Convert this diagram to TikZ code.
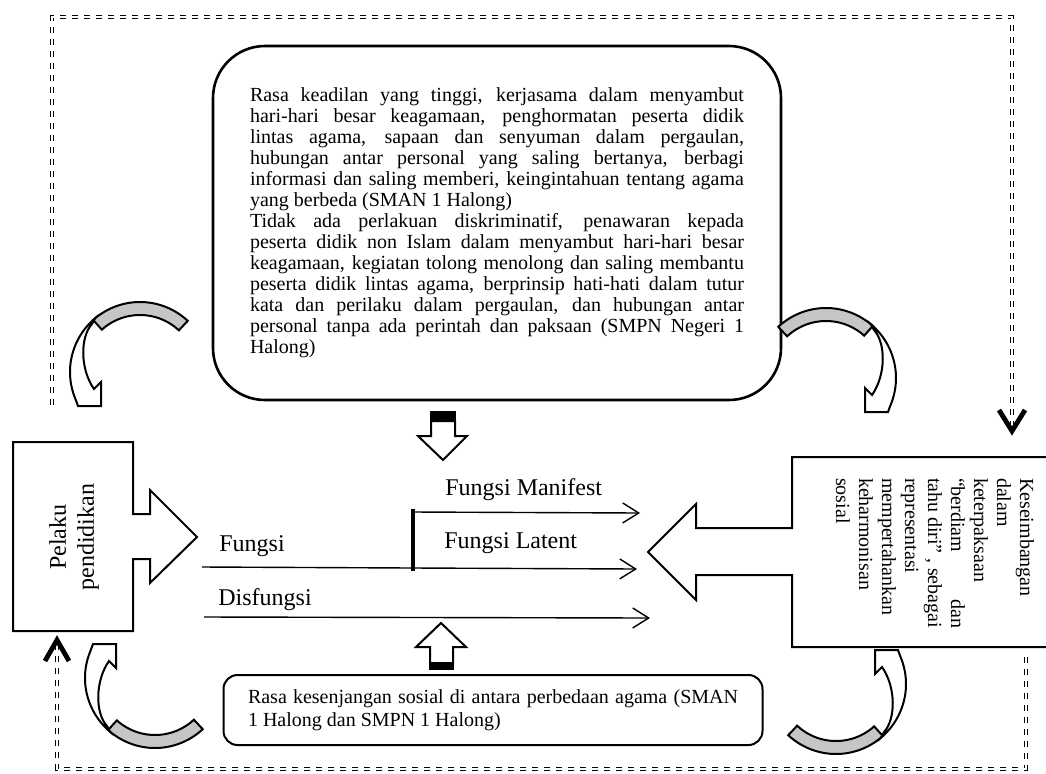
\documentclass[tikz,border=0pt]{standalone}
\usepackage{fontspec}
\setmainfont{Liberation Serif}
\usetikzlibrary{arrows.meta}
\tolerance=10000

\begin{document}
\begin{tikzpicture}[x=0.5pt, y=-0.5pt,
	bigbox/.style = {shape=rectangle, rounded corners=26pt,
		draw, line width=1.3pt, inner sep=0pt, align=justify,
		font=\fontsize{10}{10.5}\selectfont},
	smallbox/.style = {shape=rectangle, rounded corners=7pt,
		draw, line width=1pt, inner sep=0pt, align=justify,
		font=\fontsize{10}{11.5}\selectfont},
	lbl/.style = {anchor=west, inner sep=0pt, font=\fontsize{12}{14}\selectfont},
	flow/.style = {line width=0.7pt, -{Straight Barb[length=8pt, width=10pt]}},
	dashframe/.style = {line width=0.8pt, double, double distance=0.8pt,
		dash pattern=on 3pt off 3pt},
	chev/.style = {line width=2.4pt},
	blockarrow/.style = {draw, line width=1pt, fill=white, line join=miter},
	curarrow/.pic = {
		\filldraw[fill=gray!45, line width=1pt]
			plot[domain=-47:-132, samples=30] (\x:70)
			-- plot[domain=-132:-47, samples=30] (\x:57) -- cycle;
		\filldraw[fill=white, line width=1pt]
			plot[domain=-130:-203, samples=30] (\x:70)
			-- (-62,34) -- (-39,34) -- (-39,10) -- (-46,17)
			.. controls (-60,-3) and (-60,-35) .. (-48,-48) -- cycle;
	}]
	\useasboundingbox (0,0) rectangle (1046,773);

	% feedback frame
	\coordinate (topstart) at (52,405);
	\coordinate (topleft) at (52,17);
	\coordinate (topright) at (1012,17);
	\coordinate (toptip) at (1012,431);
	\draw[dashframe] (topstart) -- (topleft) -- (topright) -- (toptip);
	\draw[chev] (toptip) ++(-13,-21) -- (toptip) -- ++(13,-21);
	\coordinate (botstart) at (1026,657);
	\coordinate (botright) at (1026,769);
	\coordinate (botleft) at (57,769);
	\coordinate (bottip) at (57,640);
	\draw[dashframe] (botstart) -- (botright) -- (botleft) -- (bottip);
	\draw[chev] (bottip) ++(-12,21) -- (bottip) -- ++(12,21);

	% boxes
	\node[bigbox, minimum width=284pt, minimum height=177pt, text width=247pt] (norms) at (497,223)
	{Rasa keadilan yang tinggi, kerjasama dalam menyambut\linebreak
	hari-hari besar keagamaan, penghormatan peserta didik\linebreak
	lintas agama, sapaan dan senyuman dalam pergaulan,\linebreak
	hubungan antar personal yang saling bertanya, berbagi\linebreak
	informasi dan saling memberi, keingintahuan tentang agama\linebreak
	yang berbeda (SMAN 1 Halong)\newline
	Tidak ada perlakuan diskriminatif, penawaran kepada\linebreak
	peserta didik non Islam dalam menyambut hari-hari besar\linebreak
	keagamaan, kegiatan tolong menolong dan saling membantu\linebreak
	peserta didik lintas agama, berprinsip hati-hati dalam tutur\linebreak
	kata dan perilaku dalam pergaulan, dan hubungan antar\linebreak
	personal tanpa ada perintah dan paksaan (SMPN Negeri 1\linebreak
	Halong)};
	\node[smallbox, minimum width=269.5pt, minimum height=35pt, text width=245pt] (gap) at (493,710)
	{Rasa kesenjangan sosial di antara perbedaan agama (SMAN\linebreak
	1 Halong dan SMPN 1 Halong)};

	\draw[line width=1pt, line join=miter] (13,442) -- (133,442) -- (133,514) -- (150,514)
		-- (150,490) -- (197,537) -- (150,583) -- (150,559) -- (133,559) -- (133,631) -- (13,631) -- cycle;
	\node[rotate=90, align=center, inner sep=0pt, font=\fontsize{12}{14}\selectfont] (actor) at (74,537)
	{Pelaku\\ pendidikan};

	\draw[line width=1pt, line join=miter] (1052,457) -- (792,457) -- (792,528) -- (696,528) -- (696,504)
		-- (648,552) -- (696,600) -- (696,575) -- (792,575) -- (792,647) -- (1052,647);
	\node[rotate=-90, align=left, inner sep=0pt, font=\fontsize{10}{11.5}\selectfont] (outcome) at (935,553)
	{Keseimbangan\\ dalam\\ keterpaksaan\\ \makebox[75pt][s]{“berdiam dan}\\
	\makebox[75pt][s]{tahu diri” , sebagai}\\
	representasi\\ mempertahankan\\ keharmonisan\\ sosial};

	% pointers
	\draw[blockarrow] (431,421) -- (455,421) -- (455,436) -- (467,436) -- (443,460) -- (418,436) -- (431,436) -- cycle;
	\fill (430,411) rectangle (456,421);
	\draw[blockarrow] (430,663) -- (430,647) -- (416,647) -- (441,623) -- (466,647) -- (453,647) -- (453,663) -- cycle;
	\fill (429,662) rectangle (454,670);

	% functions
	\node[lbl] (fungsi) at (219,546) {Fungsi};
	\node[lbl] (manifest) at (445,490) {Fungsi Manifest};
	\node[lbl] (latent) at (444,543) {Fungsi Latent};
	\node[lbl] (disfungsi) at (218,600) {Disfungsi};
	\coordinate (fstart) at (202,567);
	\coordinate (fork) at (413,568);
	\coordinate (forktop) at (413,512);
	\coordinate (manifesttip) at (640,513);
	\coordinate (latenttip) at (637,569);
	\coordinate (dstart) at (204,617);
	\coordinate (dtip) at (650,618);
	\draw[line width=0.7pt] (fstart) -- (fork);
	\draw[line width=2pt, shorten <=-1.5pt, shorten >=-1.5pt] (forktop) -- (fork);
	\draw[flow] (forktop) -- (manifesttip);
	\draw[flow] (fork) -- (latenttip);
	\draw[flow] (dstart) -- (dtip);

	% curved arrows
	\pic at (140,372) {curarrow};
	\pic[xscale=-1] at (826,378) {curarrow};
	\pic[yscale=-1] at (155,678) {curarrow};
	\pic[rotate=180] at (836,684) {curarrow};
\end{tikzpicture}
\end{document}
